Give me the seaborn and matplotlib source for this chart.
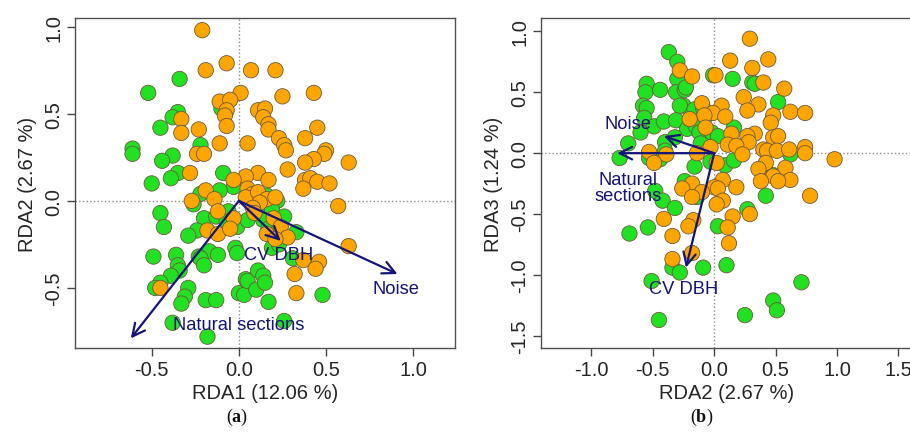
import numpy as np
import pandas as pd
import seaborn as sns
import matplotlib
matplotlib.use("Agg")
from matplotlib import pyplot as plt

# ---- data (site scores, two groups) ----
a_orange_x = [-0.21, -0.07, -0.19, 0.07, 0.21, 0.43, 0.25, 0.01, -0.11, -0.05, -0.07, -0.08, -0.07,
              0.11, 0.15, 0.14, 0.17, 0.17, -0.33, -0.33, -0.23, -0.11, 0.05, 0.23, 0.26, 0.27, 0.38,
              0.45, 0.50, 0.49, 0.43, 0.38, 0.63, -0.24, -0.20, -0.28, 0.28, 0.11, 0.04, 0.17, 0.38,
              0.41, 0.45, 0.52, 0.37, -0.03, -0.19, 0.57, -0.27, -0.14, 0.05, 0.08, 0.04, 0.11, 0.16,
              0.21, 0.12, 0.08, -0.12, -0.03, 0.20, 0.24, 0.09, -0.18, -0.12, -0.05, 0.28, 0.16, 0.21,
              0.63, 0.37, 0.46, 0.44, 0.32, 0.33, -0.45]
a_orange_y = [0.98, 0.79, 0.75, 0.75, 0.75, 0.62, 0.60, 0.62, 0.57, 0.58, 0.52, 0.49, 0.43,
              0.52, 0.53, 0.48, 0.44, 0.41, 0.47, 0.39, 0.41, 0.33, 0.33, 0.36, 0.32, 0.29, 0.36,
              0.42, 0.29, 0.27, 0.24, 0.22, 0.22, 0.27, 0.27, 0.16, 0.18, 0.16, 0.14, 0.12, 0.12,
              0.13, 0.11, 0.10, 0.07, 0.12, 0.06, -0.03, 0.00, 0.01, 0.07, 0.04, 0.02, 0.05, 0.01,
              0.02, -0.01, -0.04, -0.06, -0.10, -0.10, -0.15, -0.07, -0.17, -0.19, -0.16, -0.21, -0.19, -0.22,
              -0.26, -0.34, -0.35, -0.39, -0.42, -0.53, -0.50]
a_green_x = [-0.52, -0.34, -0.35, -0.38, -0.10, -0.45, -0.61, -0.61, -0.22, -0.38, -0.44, -0.35, -0.39,
             -0.50, -0.09, -0.03, -0.22, -0.26, -0.11, -0.45, -0.43, -0.20, -0.13, -0.06, -0.01, 0.05,
             -0.24, -0.29, -0.07, 0.14, 0.16, 0.22, 0.19, 0.26, 0.14, 0.17, 0.22, 0.33, 0.19, 0.23,
             0.31, -0.02, -0.01, -0.17, -0.23, -0.22, -0.20, -0.12, -0.36, -0.49, -0.35, -0.34, -0.39,
             -0.45, -0.48, -0.29, -0.31, -0.33, -0.19, -0.13, 0.00, 0.03, 0.04, 0.05, 0.10, 0.11, 0.14,
             0.15, 0.17, 0.48, -0.38, 0.26, -0.18]
a_green_y = [0.62, 0.70, 0.51, 0.48, 0.53, 0.42, 0.30, 0.27, 0.32, 0.26, 0.23, 0.16, 0.13,
             0.10, 0.16, 0.08, 0.04, -0.02, 0.06, -0.07, -0.15, -0.10, -0.09, -0.06, -0.15, -0.11,
             -0.17, -0.20, -0.12, -0.01, 0.03, 0.00, -0.05, -0.09, -0.11, -0.16, -0.18, -0.18, -0.27, -0.25,
             -0.33, -0.27, -0.30, -0.29, -0.32, -0.33, -0.37, -0.31, -0.31, -0.32, -0.37, -0.40, -0.43,
             -0.47, -0.50, -0.50, -0.55, -0.59, -0.57, -0.57, -0.53, -0.54, -0.45, -0.46, -0.51, -0.40, -0.43,
             -0.47, -0.58, -0.54, -0.70, -0.69, -0.78]

b_orange_x = [0.29, 0.13, 0.44, 0.31, -0.28, -0.18, 0.01, 0.40, 0.57, 0.24, 0.36, -0.10, 0.06,
              -0.01, 0.27, 0.62, 0.74, 0.48, -0.08, 0.09, -0.20, 0.46, -0.07, 0.14, 0.33, 0.48, 0.52,
              0.27, 0.28, 0.11, 0.18, -0.03, 0.23, 0.40, 0.43, 0.51, 0.61, 0.74, 0.74, 0.98, -0.53,
              -0.14, -0.39, -0.49, 0.02, 0.42, 0.36, 0.58, 0.48, 0.62, 0.52, 0.38, 0.07, -0.18, -0.26,
              0.00, 0.03, 0.18, -0.10, -0.18, 0.07, 0.02, 0.78, 0.15, 0.29, -0.41, -0.17, -0.21, -0.34,
              0.11, 0.12, -0.18, -0.34]
b_orange_y = [0.94, 0.76, 0.77, 0.70, 0.68, 0.63, 0.64, 0.58, 0.53, 0.46, 0.40, 0.41, 0.39,
              0.33, 0.35, 0.34, 0.33, 0.31, 0.31, 0.30, 0.28, 0.25, 0.21, 0.16, 0.16, 0.13, 0.14,
              0.14, 0.09, 0.07, 0.06, 0.05, -0.01, 0.03, 0.02, 0.02, 0.03, 0.05, 0.00, -0.05, 0.01,
              0.00, -0.01, -0.08, -0.08, -0.08, -0.13, -0.12, -0.19, -0.22, -0.23, -0.23, -0.22, -0.25, -0.29,
              -0.28, -0.29, -0.28, -0.32, -0.36, -0.39, -0.42, -0.35, -0.52, -0.50, -0.54, -0.55, -0.60, -0.68,
              -0.61, -0.74, -0.82, -0.87]
b_green_x = [-0.37, -0.30, -0.30, -0.55, -0.56, -0.44, -0.31, -0.24, -0.25, -0.28, -0.58, -0.55, -0.57,
             -0.49, -0.60, -0.41, -0.31, -0.16, -0.09, -0.08, -0.22, -0.15, -0.12, -0.02, 0.03, -0.11,
             -0.32, -0.40, -0.70, -0.77, -0.53, -0.44, -0.40, -0.03, 0.09, 0.16, 0.16, 0.15, -0.01,
             -0.23, 0.31, 0.33, 0.52, 0.22, 0.62, 0.48, 0.42, -0.16, -0.24, -0.14, -0.48, -0.42, -0.32,
             -0.54, -0.69, 0.03, 0.27, -0.34, -0.28, -0.09, 0.10, -0.51, 0.71, 0.48, 0.51, 0.25, -0.45]
b_green_y = [0.83, 0.75, 0.61, 0.57, 0.50, 0.52, 0.50, 0.52, 0.39, 0.39, 0.39, 0.37, 0.29,
             0.22, 0.17, 0.26, 0.27, 0.36, 0.37, 0.29, 0.20, 0.22, 0.17, 0.17, 0.14, 0.08,
             0.13, 0.09, 0.08, -0.04, -0.04, -0.05, 0.02, -0.07, -0.10, -0.06, 0.21, 0.61, 0.64,
             0.54, 0.58, 0.57, 0.42, 0.03, -0.01, -0.18, -0.35, -0.11, -0.23, -0.36, -0.31, -0.39, -0.45,
             -0.61, -0.66, -0.60, -0.46, -0.94, -0.98, -0.94, -0.92, -1.05, -1.06, -1.21, -1.29, -1.33, -1.37]

# ---- biplot arrows (explanatory variables) ----
a_arrow_names = ["Natural sections", "CV DBH", "Noise"]
a_arrow_x = [-0.62, 0.24, 0.91]
a_arrow_y = [-0.79, -0.23, -0.42]
b_arrow_names = ["Natural sections", "CV DBH", "Noise"]
b_arrow_x = [-0.79, -0.23, -0.41]
b_arrow_y = [0.00, -0.94, 0.14]

sns.set_style("white")
plt.rcParams["font.family"] = ["Liberation Sans", "DejaVu Sans"]
plt.rcParams["mathtext.fontset"] = "custom"
plt.rcParams["mathtext.bf"] = "Liberation Serif:bold"
plt.rcParams["mathtext.rm"] = "Liberation Serif"

palette = {"green": "#22e022", "orange": "#ffa500"}
navy = "#14147a"
txt = "#262626"
fs = 14.5


def make_df(gx, gy, ox, oy):
    g = pd.DataFrame({"x": gx, "y": gy, "grp": "green"})
    o = pd.DataFrame({"x": ox, "y": oy, "grp": "orange"})
    return pd.concat([g, o], ignore_index=True)


def draw_panel(ax, df, names, ax_x, ax_y, label_pos, xlim, ylim, xticks, yticks, xlabel, ylabel):
    ax.axhline(0, color="#8c8c8c", ls=":", lw=1, zorder=0)
    ax.axvline(0, color="#8c8c8c", ls=":", lw=1, zorder=0)
    sns.scatterplot(data=df, x="x", y="y", hue="grp", palette=palette, s=122,
                    edgecolor="#6b5a3a", linewidth=0.6, legend=False, ax=ax, zorder=2)
    for name, x, y in zip(names, ax_x, ax_y):
        ax.annotate("", xy=(x, y), xytext=(0, 0), zorder=3,
                    arrowprops=dict(arrowstyle="->,head_length=0.9,head_width=0.45",
                                    color=navy, lw=1.6, shrinkA=0, shrinkB=0))
        tx, ty = label_pos[name]
        ax.text(tx, ty, name, color=navy, fontsize=13.2, ha="center", va="center",
                zorder=4, linespacing=0.95)
    ax.set_xlim(xlim)
    ax.set_ylim(ylim)
    ax.set_xticks(xticks)
    ax.set_xticklabels([f"{t:.1f}" for t in xticks])
    ax.set_yticks(yticks)
    ax.set_yticklabels([f"{t:.1f}" for t in yticks], rotation=90, va="center")
    ax.tick_params(axis="both", direction="out", length=6, width=1, color="#444444",
                   labelsize=fs, labelcolor=txt, pad=2.5, bottom=True, left=True)
    ax.set_xlabel(xlabel, fontsize=fs, color=txt, labelpad=3)
    ax.set_ylabel(ylabel, fontsize=fs, color=txt, labelpad=5)
    for sp in ax.spines.values():
        sp.set_color("#505050")
        sp.set_linewidth(1)


fig = plt.figure(figsize=(9.10, 4.35), dpi=100)
ax1 = fig.add_axes([75 / 910, 1 - 349 / 435, 380 / 910, 330 / 435])
ax2 = fig.add_axes([541 / 910, 1 - 349 / 435, 371 / 910, 330 / 435])

draw_panel(ax1, make_df(a_green_x, a_green_y, a_orange_x, a_orange_y),
           a_arrow_names, a_arrow_x, a_arrow_y,
           {"Natural sections": (0.0, -0.71), "CV DBH": (0.23, -0.31), "Noise": (0.90, -0.505)},
           (-0.94, 1.24), (-0.845, 1.05), [-0.5, 0.0, 0.5, 1.0], [-0.5, 0.0, 0.5, 1.0],
           "RDA1 (12.06 %)", "RDA2 (2.67 %)")

draw_panel(ax2, make_df(b_green_x, b_green_y, b_orange_x, b_orange_y),
           b_arrow_names, b_arrow_x, b_arrow_y,
           {"Natural sections": (-0.70, -0.28), "CV DBH": (-0.25, -1.11), "Noise": (-0.70, 0.24)},
           (-1.41, 1.61), (-1.60, 1.11), [-1.0, -0.5, 0.0, 0.5, 1.0, 1.5],
           [-1.5, -1.0, -0.5, 0.0, 0.5, 1.0],
           "RDA2 (2.67 %)", "RDA3 (1.24 %)")
# the long label sits on two lines in panel b
for t in ax2.texts:
    if t.get_text() == "Natural sections":
        t.set_text("Natural\nsections")

fig.text(237 / 910, 1 - 417 / 435, r"($\mathbf{a}$)", fontsize=13, ha="center", va="center",
         family="Liberation Serif", color="#111111")
fig.text(702 / 910, 1 - 417 / 435, r"($\mathbf{b}$)", fontsize=13, ha="center", va="center",
         family="Liberation Serif", color="#111111")

fig.savefig("out.png", dpi=100)
